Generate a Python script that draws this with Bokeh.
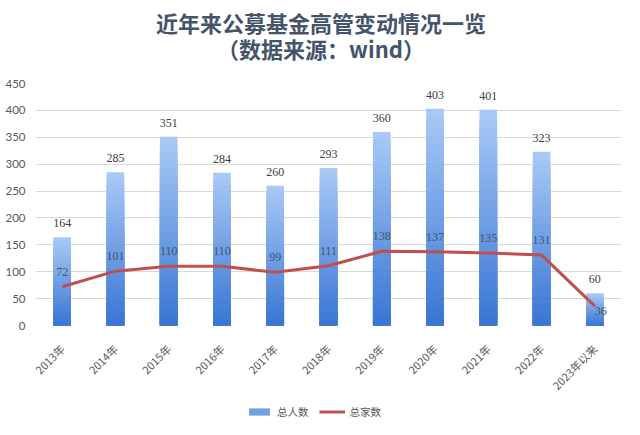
import math
from bokeh.plotting import figure
from bokeh.layouts import column
from bokeh.models import (ColumnDataSource, LabelSet, Legend, LegendItem,
                          FactorRange, Range1d, FixedTicker, Label)
from bokeh.embed import file_html
from bokeh.resources import INLINE

categories = ["2013年", "2014年", "2015年", "2016年", "2017年", "2018年",
              "2019年", "2020年", "2021年", "2022年", "2023年以来"]
people = [164, 285, 351, 284, 260, 293, 360, 403, 401, 323, 60]
firms = [72, 101, 110, 110, 99, 111, 138, 137, 135, 131, 36]
y_ticks = [0, 50, 100, 150, 200, 250, 300, 350, 400, 450]
title_1 = "近年来公募基金高管变动情况一览"
title_2 = "（数据来源：wind）"
series_names = ["总人数", "总家数"]

CJK = "Noto Sans CJK SC"
NUM = "Lato"
W = 624
BAR_W = 0.33
LIGHT = (170, 202, 246)
DARK = (56, 117, 212)
RED = "#c0504d"
TITLE_C = "#44546a"
AXIS_C = "#595959"

# ---------------- title strip ----------------
TH = 66
tf = figure(width=W, height=TH, x_range=Range1d(0, W), y_range=Range1d(0, TH),
            output_backend="svg", toolbar_location=None,
            x_axis_type=None, y_axis_type=None, min_border=0)
tf.outline_line_color = None
tf.grid.visible = False
for txt, yy in ((title_1, 45), (title_2, 19)):
    tf.add_layout(Label(x=304, y=yy, text=txt, text_align="center",
                        text_baseline="middle", text_font=CJK,
                        text_font_size="22px", text_font_style="bold",
                        text_color=TITLE_C))

# ---------------- main chart ----------------
TOP, FRAME_H, BOT = 17, 242, 78
MH = TOP + FRAME_H + BOT
p = figure(width=W, height=MH, x_range=FactorRange(*categories),
           y_range=Range1d(0, 450), output_backend="svg",
           toolbar_location=None, min_border_left=35, min_border_right=3,
           min_border_top=TOP, min_border_bottom=BOT)
p.outline_line_color = None
p.xgrid.grid_line_color = None
p.ygrid.grid_line_color = "#d9d9d9"
p.yaxis.ticker = FixedTicker(ticks=y_ticks)
for ax in (p.xaxis, p.yaxis):
    ax.axis_line_color = None
    ax.major_tick_line_color = None
    ax.minor_tick_line_color = None
p.yaxis.major_label_text_font = NUM
p.yaxis.major_label_text_font_size = "11.5px"
p.yaxis.major_label_text_color = AXIS_C
p.yaxis.major_label_standoff = 4
p.xaxis.major_label_orientation = math.pi / 4
p.xaxis.major_label_text_font = CJK
p.xaxis.major_label_text_font_size = "11px"
p.xaxis.major_label_text_color = AXIS_C
p.xaxis.major_label_standoff = 15

# bars with a vertical gradient: painted as nested bars, tallest (lightest) first
N = 24
gx, gt, gc = [], [], []
for k in range(N - 1, -1, -1):
    f = (k + 0.5) / N
    col = "#%02x%02x%02x" % tuple(round(DARK[i] + (LIGHT[i] - DARK[i]) * f)
                                  for i in range(3))
    for c, v in zip(categories, people):
        gx.append(c)
        gt.append(v * (k + 1) / N)
        gc.append(col)
p.vbar(x=gx, top=gt, width=BAR_W, fill_color=gc, line_color=None)

src = ColumnDataSource(dict(
    cat=categories, people=people, firms=firms,
    people_txt=[str(v) for v in people],
    firms_txt=[str(v) for v in firms],
    fx_off=[0] * (len(firms) - 1) + [6],
    fy_off=[11] * (len(firms) - 1) + [-9],
))
p.line(x="cat", y="firms", source=src, line_color=RED, line_width=3)

p.add_layout(LabelSet(x="cat", y="people", text="people_txt", source=src,
                      y_offset=10, text_align="center", text_baseline="bottom",
                      text_font_size="12px", text_color="#404040",
                      text_font=NUM))
p.add_layout(LabelSet(x="cat", y="firms", text="firms_txt", source=src,
                      x_offset="fx_off", y_offset="fy_off", text_align="center",
                      text_baseline="bottom", text_font_size="12px",
                      text_color=TITLE_C, text_font=NUM))

# ---------------- legend strip ----------------
LH = 419 - TH - MH
lf = figure(width=W, height=LH, x_range=FactorRange(*categories),
            y_range=Range1d(-2, -1), output_backend="svg",
            toolbar_location=None, x_axis_type=None, y_axis_type=None,
            min_border=0)
lf.outline_line_color = None
lf.grid.visible = False
mid = "#%02x%02x%02x" % tuple((LIGHT[i] + DARK[i]) // 2 for i in range(3))
lb = lf.vbar(x=categories, top=people, width=0, fill_color=mid,
             line_color=None)
ll = lf.line(x=categories, y=firms, line_color=RED, line_width=3)
legend = Legend(items=[LegendItem(label=series_names[0], renderers=[lb]),
                       LegendItem(label=series_names[1], renderers=[ll])],
                orientation="horizontal", location=(211, 0))
legend.border_line_color = None
legend.background_fill_color = None
legend.label_text_font = CJK
legend.label_text_font_size = "10.5px"
legend.label_text_color = AXIS_C
legend.glyph_width = 26
legend.glyph_height = 9
legend.label_standoff = 5
legend.spacing = 10
legend.padding = 0
legend.margin = 0
legend.label_height = 12
lf.add_layout(legend, "center")

page = column(tf, p, lf, spacing=0)
open("out.html", "w").write(file_html(page, INLINE))
